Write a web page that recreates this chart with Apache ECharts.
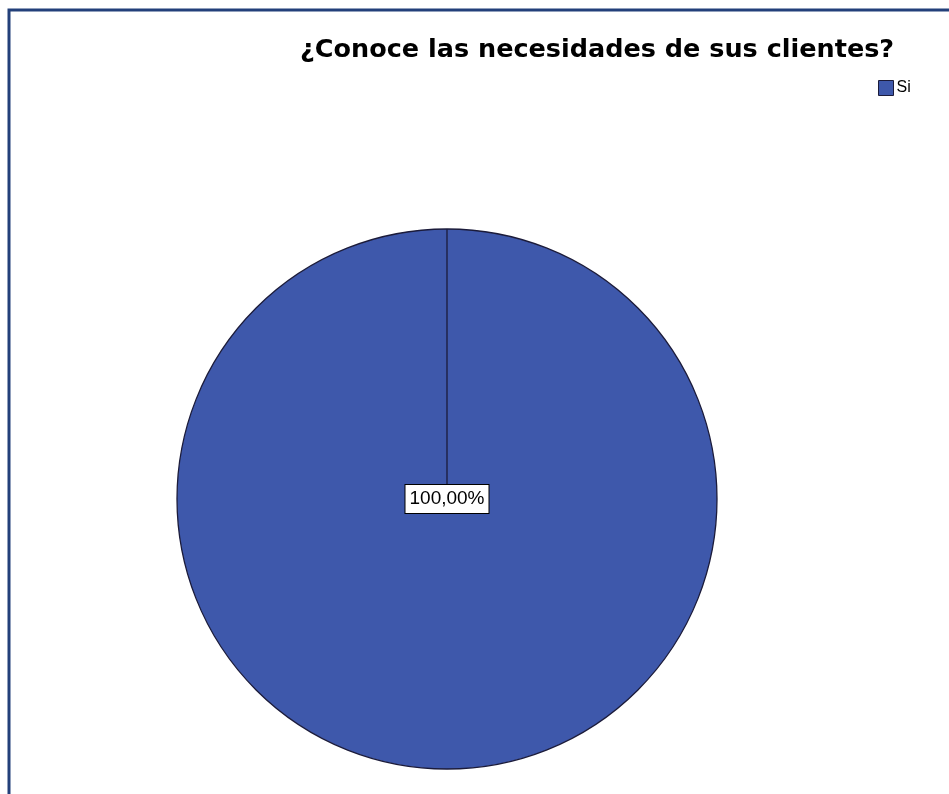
<!DOCTYPE html>
<html>
<head>
<meta charset="utf-8">
<script src="https://cdn.jsdelivr.net/npm/echarts@6/dist/echarts.min.js"></script>
<style>
html,body{margin:0;padding:0;background:#fff;}
#chart{width:949px;height:794px;}
</style>
</head>
<body>
<div id="chart"></div>
<script>
const titleText = '¿Conoce las necesidades de sus clientes?';
const categories = ['Si'];
const values = [100];
const colors = ['#3e58ab'];

const chart = echarts.init(document.getElementById('chart'), null, {renderer: 'canvas'});
const baseGraphic = [{
  type: 'polyline',
  shape: {points: [[9, 800], [9, 10], [960, 10]]},
  style: {stroke: '#23407a', lineWidth: 3, fill: null},
  silent: true
}];
chart.setOption({
  backgroundColor: '#ffffff',
  animation: false,
  graphic: baseGraphic,
  title: {
    text: titleText,
    left: 300,
    top: 37,
    padding: 0,
    textStyle: {fontFamily: 'DejaVu Sans', fontWeight: 'bold', fontSize: 25.5, color: '#000'}
  },
  legend: {
    data: categories,
    left: 878,
    top: 80,
    padding: 0,
    icon: 'rect',
    itemWidth: 15,
    itemHeight: 15,
    itemGap: 4,
    itemStyle: {borderColor: '#1b1b3a', borderWidth: 1},
    textStyle: {fontFamily: 'Liberation Sans', fontSize: 16, color: '#000', padding: [0,0,0,-2]}
  },
  series: [{
    type: 'pie',
    center: [447, 499],
    radius: 270,
    startAngle: 90,
    clockwise: true,
    avoidLabelOverlap: false,
    itemStyle: {borderColor: '#1b1b3a', borderWidth: 1.3},
    emphasis: {disabled: true},
    label: {
      show: true,
      position: 'center',
      formatter: p => p.percent.toFixed(2).replace('.', ',') + '%',
      fontFamily: 'Liberation Sans',
      fontSize: 19,
      color: '#000',
      backgroundColor: '#ffffff',
      borderColor: '#000',
      borderWidth: 1,
      padding: [5, 4, 4, 4]
    },
    labelLine: {show: false},
    data: categories.map((c, i) => ({name: c, value: values[i], itemStyle: {color: colors[i]}}))
  }]
});

// Slice edge: radial line at the slice's start angle, taken from the pie's own layout,
// stopping at the centre label box.
const layout = chart.getModel().getSeriesByIndex(0).getData().getItemLayout(0);
if (layout) {
  const a = layout.startAngle;
  const labelHalf = 15;
  const x1 = layout.cx + labelHalf * Math.cos(a);
  const y1 = layout.cy + labelHalf * Math.sin(a);
  const x2 = layout.cx + layout.r * Math.cos(a);
  const y2 = layout.cy + layout.r * Math.sin(a);
  chart.setOption({
    graphic: baseGraphic.concat([{
      type: 'line',
      shape: {x1: x1, y1: y1, x2: x2, y2: y2},
      style: {stroke: '#1b1b3a', lineWidth: 1.3},
      z: 10,
      silent: true
    }])
  });
}
</script>
</body>
</html>
